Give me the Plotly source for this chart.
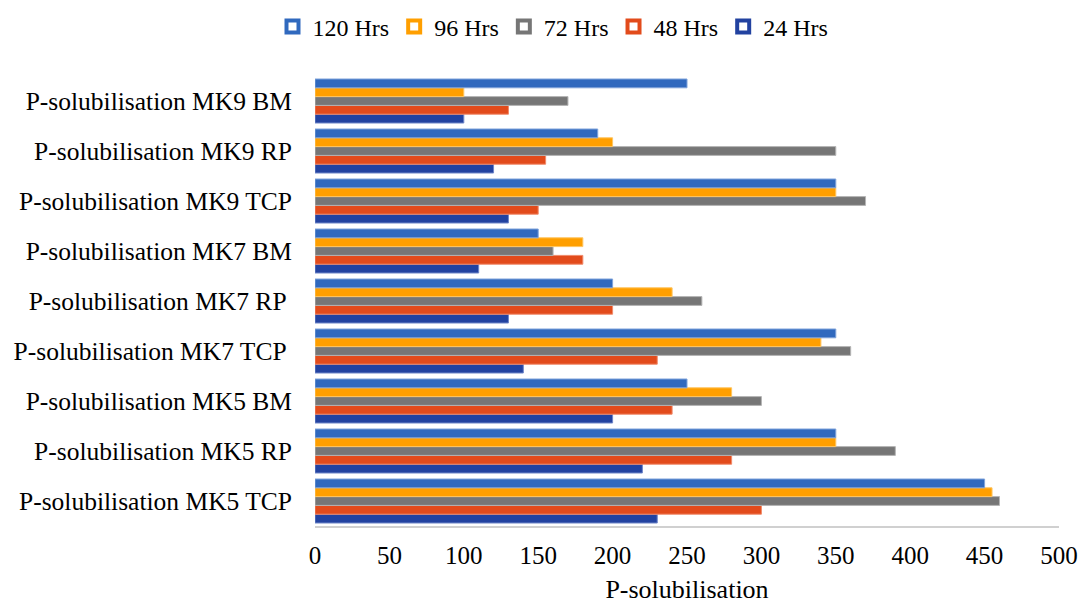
import plotly.graph_objects as go

categories = [
    "P-solubilisation MK5 TCP",
    "P-solubilisation MK5 RP",
    "P-solubilisation MK5 BM",
    "P-solubilisation MK7 TCP ",
    "P-solubilisation MK7 RP ",
    "P-solubilisation MK7 BM",
    "P-solubilisation MK9 TCP",
    "P-solubilisation MK9 RP",
    "P-solubilisation MK9 BM",
]

hrs_24 = [230, 220, 200, 140, 130, 110, 130, 120, 100]
hrs_48 = [300, 280, 240, 230, 200, 180, 150, 155, 130]
hrs_72 = [460, 390, 300, 360, 260, 160, 370, 350, 170]
hrs_96 = [455, 350, 280, 340, 240, 180, 350, 200, 100]
hrs_120 = [450, 350, 250, 350, 200, 150, 350, 190, 250]

series = [
    ("24 Hrs", hrs_24, "#2242A0", "#6F86C8"),
    ("48 Hrs", hrs_48, "#E24B1B", "#F08A6A"),
    ("72 Hrs", hrs_72, "#767676", "#B5B5B5"),
    ("96 Hrs", hrs_96, "#FF9F00", "#FFC560"),
    ("120 Hrs", hrs_120, "#3069BE", "#7FA3DA"),
]

fig = go.Figure()
for name, vals, col, edge in series:
    fig.add_trace(go.Bar(
        y=categories, x=vals, name=name, orientation="h",
        marker=dict(color=col, line=dict(color=edge, width=1)),
        showlegend=False, legendgroup=name,
    ))
# legend-only entries with hollow square symbols, on hidden axes
for name, vals, col, edge in series:
    fig.add_trace(go.Bar(
        y=[None], x=[None], name=name, orientation="h",
        xaxis="x2", yaxis="y2",
        marker=dict(color="white", line=dict(color=col, width=4)),
        showlegend=True, legendgroup=name, hoverinfo="skip",
    ))

font_family = "Liberation Serif, Times New Roman, serif"
W, H = 1082, 604
fig.update_layout(
    barmode="group",
    bargap=0.12,
    bargroupgap=0,
    width=W, height=H,
    margin=dict(l=315, r=23, t=76, b=78),
    paper_bgcolor="white",
    plot_bgcolor="white",
    font=dict(family=font_family, size=25, color="#000000"),
    legend=dict(
        orientation="h", traceorder="reversed",
        xref="container", yref="container",
        x=553 / W, xanchor="center", y=1 - 27 / H, yanchor="middle",
        font=dict(size=24), itemwidth=30,
    ),
    xaxis=dict(
        range=[0, 500], tick0=0, dtick=50,
        showgrid=False, zeroline=False, automargin=False,
        showline=True, linecolor="#D0D0D0", linewidth=1.5,
        ticks="", ticklabelstandoff=6,
        tickfont=dict(size=25),
        title=dict(text="P-solubilisation", font=dict(size=26), standoff=21),
    ),
    yaxis=dict(
        showgrid=False, zeroline=False, showline=False, automargin=False,
        ticks="", ticklabelstandoff=22,
        tickfont=dict(size=25.5),
    ),
    xaxis2=dict(overlaying="x", visible=False, range=[0, 1]),
    yaxis2=dict(overlaying="y", visible=False, range=[0, 1]),
)

fig.write_html(
    "out.html",
    config={"displayModeBar": False},
    post_script="document.body.style.margin='0';document.body.style.overflow='hidden';",
)
